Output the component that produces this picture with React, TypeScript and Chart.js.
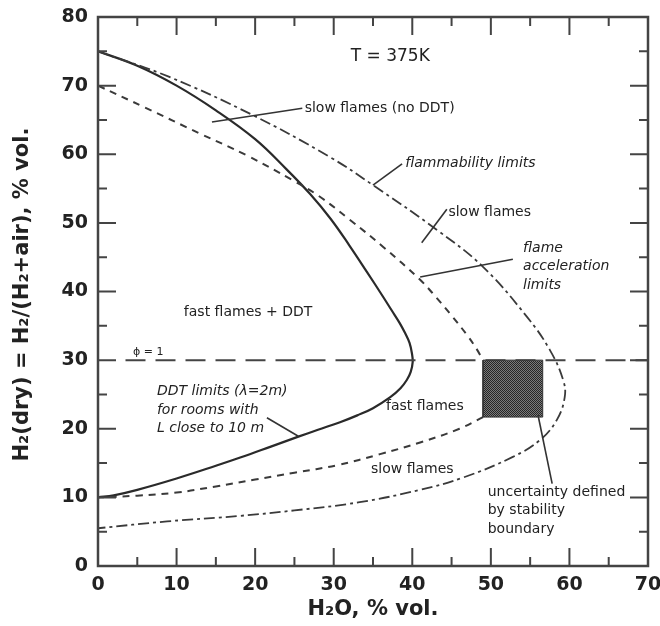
import React, { useEffect, useRef } from "react";
import { Chart, registerables } from "chart.js";

Chart.register(...registerables);

// ---- data ----
// DDT limits (solid), from the upper end at x=0 round the nose to the lower end at x=0
const ddtX = [0, 5, 10, 15, 20, 24, 27, 29.6, 32, 34.2, 36.3, 37.35, 38.4, 39.1, 39.65, 39.95, 40.05, 39.8, 39.3, 38.5, 37.2, 35, 33, 30.8, 28, 25.5, 22, 18.1, 15, 10, 5, 2, 0];
const ddtY = [75, 72.9, 70, 66.4, 62.2, 57.8, 54.2, 50.6, 46.7, 42.9, 39.2, 37.3, 35.4, 33.9, 32.5, 31, 29.7, 28.3, 27.1, 25.9, 24.6, 23, 21.95, 20.95, 19.85, 18.85, 17.4, 15.8, 14.6, 12.75, 11.1, 10.3, 10];

// flame acceleration limits (dashed), upper and lower branches
const accelUpperX = [0, 6, 13, 19, 24.8, 28, 32, 36.3, 41, 43, 45, 47, 48.2, 49];
const accelUpperY = [70, 66.8, 63, 59.8, 56.2, 54, 50.5, 46.5, 41.7, 39.2, 36.5, 33.6, 31.6, 30];
const accelLowerX = [49, 46, 41, 35.9, 30.5, 25, 20, 15, 10, 5, 0];
const accelLowerY = [21.7, 20, 18, 16.3, 14.7, 13.6, 12.6, 11.6, 10.7, 10.25, 10];

// flammability limits (dash-dot)
const flammX = [0, 9, 19.7, 29.5, 35, 43.1, 49, 54.6, 57.5, 59.2, 59.4, 58.4, 56.3, 52.8, 46.5, 41, 33.3, 25, 18, 8.8, 0];
const flammY = [75, 71.3, 65.7, 59.6, 55.5, 49, 43.6, 36.3, 31.5, 27.1, 24.6, 21.3, 18.4, 15.9, 12.9, 11.1, 9.3, 8.1, 7.3, 6.5, 5.5];

// stoichiometric line (phi = 1)
const stoichX = [3.5, 70];
const stoichY = [30, 30];

// uncertainty box
const boxX = [49, 56.6, 56.6, 49, 49];
const boxY = [21.7, 21.7, 30, 30, 21.7];

// axes
const xTickValues = [0, 10, 20, 30, 40, 50, 60, 70];
const yTickValues = [0, 10, 20, 30, 40, 50, 60, 70, 80];
const xMinorValues = [5, 15, 25, 35, 45, 55, 65];
const yMinorValues = [5, 15, 25, 35, 45, 55, 65, 75];

const xTitle = "H₂O, % vol.";
const yTitle = "H₂(dry) = H₂/(H₂+air), % vol.";

// text annotations (data coordinates)
type Note = { lines: string[]; x: number; y: number; align: CanvasTextAlign; italic?: boolean; size?: number };
const notes: Note[] = [
  { lines: ["T = 375K"], x: 37.2, y: 74.2, align: "center", size: 17 },
  { lines: ["slow flames (no DDT)"], x: 26.3, y: 66.7, align: "left" },
  { lines: ["flammability limits"], x: 39.1, y: 58.7, align: "left", italic: true },
  { lines: ["slow flames"], x: 44.6, y: 51.6, align: "left" },
  { lines: ["flame", "acceleration", "limits"], x: 54.1, y: 46.3, align: "left", italic: true },
  { lines: ["fast flames + DDT"], x: 19.1, y: 36.9, align: "center" },
  { lines: ["ϕ = 1"], x: 6.4, y: 31.1, align: "center", size: 11 },
  { lines: ["DDT limits (λ=2m)", "for rooms with", "L close to 10 m"], x: 7.5, y: 25.4, align: "left", italic: true },
  { lines: ["fast flames"], x: 41.6, y: 23.2, align: "center" },
  { lines: ["slow flames"], x: 40.0, y: 14.1, align: "center" },
  { lines: ["uncertainty defined", "by stability", "boundary"], x: 49.6, y: 10.8, align: "left" },
];

// leader lines (data coordinates)
const leaders = [
  [14.5, 64.7, 26.0, 66.7],
  [35.0, 55.5, 38.7, 58.6],
  [41.2, 47.1, 44.4, 52.0],
  [41.0, 42.1, 52.8, 44.7],
  [21.5, 21.6, 25.5, 18.9],
  [56.0, 22.0, 57.8, 12.0],
];

const FONT = '"DejaVu Sans", "Liberation Sans", sans-serif';
const INK = "#222";

function pts(xs: number[], ys: number[]) {
  return xs.map((x, i) => ({ x, y: ys[i] }));
}

const decor = {
  id: "decor",
  afterDatasetsDraw(chart: any) {
    const { ctx, chartArea: a, scales } = chart;
    const x = scales.x;
    const y = scales.y;
    ctx.save();
    // frame
    ctx.strokeStyle = "#444";
    ctx.lineWidth = 2.5;
    ctx.strokeRect(a.left, a.top, a.right - a.left, a.bottom - a.top);
    // inward ticks on all four sides
    ctx.lineWidth = 2;
    const tick = (v: number, len: number, horiz: boolean) => {
      ctx.beginPath();
      if (horiz) {
        const p = x.getPixelForValue(v);
        ctx.moveTo(p, a.bottom);
        ctx.lineTo(p, a.bottom - len);
        ctx.moveTo(p, a.top);
        ctx.lineTo(p, a.top + len);
      } else {
        const p = y.getPixelForValue(v);
        ctx.moveTo(a.left, p);
        ctx.lineTo(a.left + len, p);
        ctx.moveTo(a.right, p);
        ctx.lineTo(a.right - len, p);
      }
      ctx.stroke();
    };
    xTickValues.forEach((v) => tick(v, 18, true));
    xMinorValues.forEach((v) => tick(v, 9, true));
    yTickValues.forEach((v) => tick(v, 18, false));
    yMinorValues.forEach((v) => tick(v, 9, false));

    // leader lines
    ctx.strokeStyle = "#333";
    ctx.lineWidth = 1.6;
    leaders.forEach(([x1, y1, x2, y2]) => {
      ctx.beginPath();
      ctx.moveTo(x.getPixelForValue(x1), y.getPixelForValue(y1));
      ctx.lineTo(x.getPixelForValue(x2), y.getPixelForValue(y2));
      ctx.stroke();
    });

    // notes
    ctx.fillStyle = INK;
    ctx.textBaseline = "middle";
    notes.forEach((n) => {
      const size = n.size ?? 14;
      ctx.font = `${n.italic ? "italic " : ""}${size}px ${FONT}`;
      ctx.textAlign = n.align;
      const px = x.getPixelForValue(n.x);
      const py = y.getPixelForValue(n.y);
      n.lines.forEach((line, i) => ctx.fillText(line, px, py + i * 18.5));
    });

    // axis titles
    ctx.font = `bold 21px ${FONT}`;
    ctx.textAlign = "center";
    ctx.fillText(xTitle, (a.left + a.right) / 2, 610);
    ctx.translate(23, (a.top + a.bottom) / 2 + 3);
    ctx.rotate(-Math.PI / 2);
    ctx.fillText(yTitle, 0, 0);
    ctx.restore();
  },
};

export default function App() {
  const ref = useRef<HTMLCanvasElement | null>(null);
  useEffect(() => {
    if (!ref.current) return;
    const pc = document.createElement("canvas");
    pc.width = 2;
    pc.height = 2;
    const pctx = pc.getContext("2d")!;
    pctx.fillStyle = "#7a7a7a";
    pctx.fillRect(0, 0, 2, 2);
    pctx.fillStyle = "#262626";
    pctx.fillRect(0, 0, 1, 1);
    pctx.fillRect(1, 1, 1, 1);
    const pattern = ref.current.getContext("2d")!.createPattern(pc, "repeat");

    const line = { showLine: true, pointRadius: 0, pointHoverRadius: 0, fill: false, tension: 0.4 };
    const chart = new Chart(ref.current, {
      type: "scatter",
      data: {
        datasets: [
          {
            label: "uncertainty",
            data: pts(boxX, boxY),
            showLine: true,
            pointRadius: 0,
            tension: 0,
            fill: "shape",
            backgroundColor: pattern as any,
            borderColor: "#333",
            borderWidth: 1,
          } as any,
          { ...line, label: "phi=1", data: pts(stoichX, stoichY), borderColor: "#444", borderWidth: 2, borderDash: [20, 10], tension: 0 },
          { ...line, label: "flammability limits", data: pts(flammX, flammY), borderColor: "#3a3a3a", borderWidth: 1.8, borderDash: [11, 4, 3, 4] },
          { ...line, label: "flame acceleration upper", data: pts(accelUpperX, accelUpperY), borderColor: "#3a3a3a", borderWidth: 2, borderDash: [7, 6] },
          { ...line, label: "flame acceleration lower", data: pts(accelLowerX, accelLowerY), borderColor: "#3a3a3a", borderWidth: 2, borderDash: [7, 6] },
          { ...line, label: "DDT limits", data: pts(ddtX, ddtY), borderColor: "#2a2a2a", borderWidth: 2.2 },
        ],
      },
      options: {
        animation: false,
        responsive: false,
        maintainAspectRatio: false,
        devicePixelRatio: 1,
        events: [],
        layout: { padding: { left: 0, right: 12, top: 17, bottom: 0 } },
        plugins: { legend: { display: false }, tooltip: { enabled: false }, title: { display: false } },
        scales: {
          x: {
            type: "linear",
            min: 0,
            max: 70,
            afterFit: (s: any) => { s.height = 60; s.paddingLeft = 0; s.paddingRight = 0; },
            afterBuildTicks: (s: any) => { s.ticks = xTickValues.map((v) => ({ value: v })); },
            ticks: { font: { family: FONT, size: 19, weight: "bold" }, color: INK, padding: 8, maxRotation: 0 },
            grid: { display: false, drawTicks: false },
            border: { display: false },
          },
          y: {
            type: "linear",
            min: 0,
            max: 80,
            afterFit: (s: any) => { s.width = 98; s.paddingTop = 0; s.paddingBottom = 0; },
            afterBuildTicks: (s: any) => { s.ticks = yTickValues.map((v) => ({ value: v })); },
            ticks: { font: { family: FONT, size: 19, weight: "bold" }, color: INK, padding: 10 },
            grid: { display: false, drawTicks: false },
            border: { display: false },
          },
        },
      },
      plugins: [decor],
    });
    return () => chart.destroy();
  }, []);
  return (
    <div style={{ position: "absolute", left: 0, top: 0, width: 660, height: 626, background: "#fff" }}>
      <canvas ref={ref} width={660} height={626} style={{ display: "block" }} />
    </div>
  );
}
